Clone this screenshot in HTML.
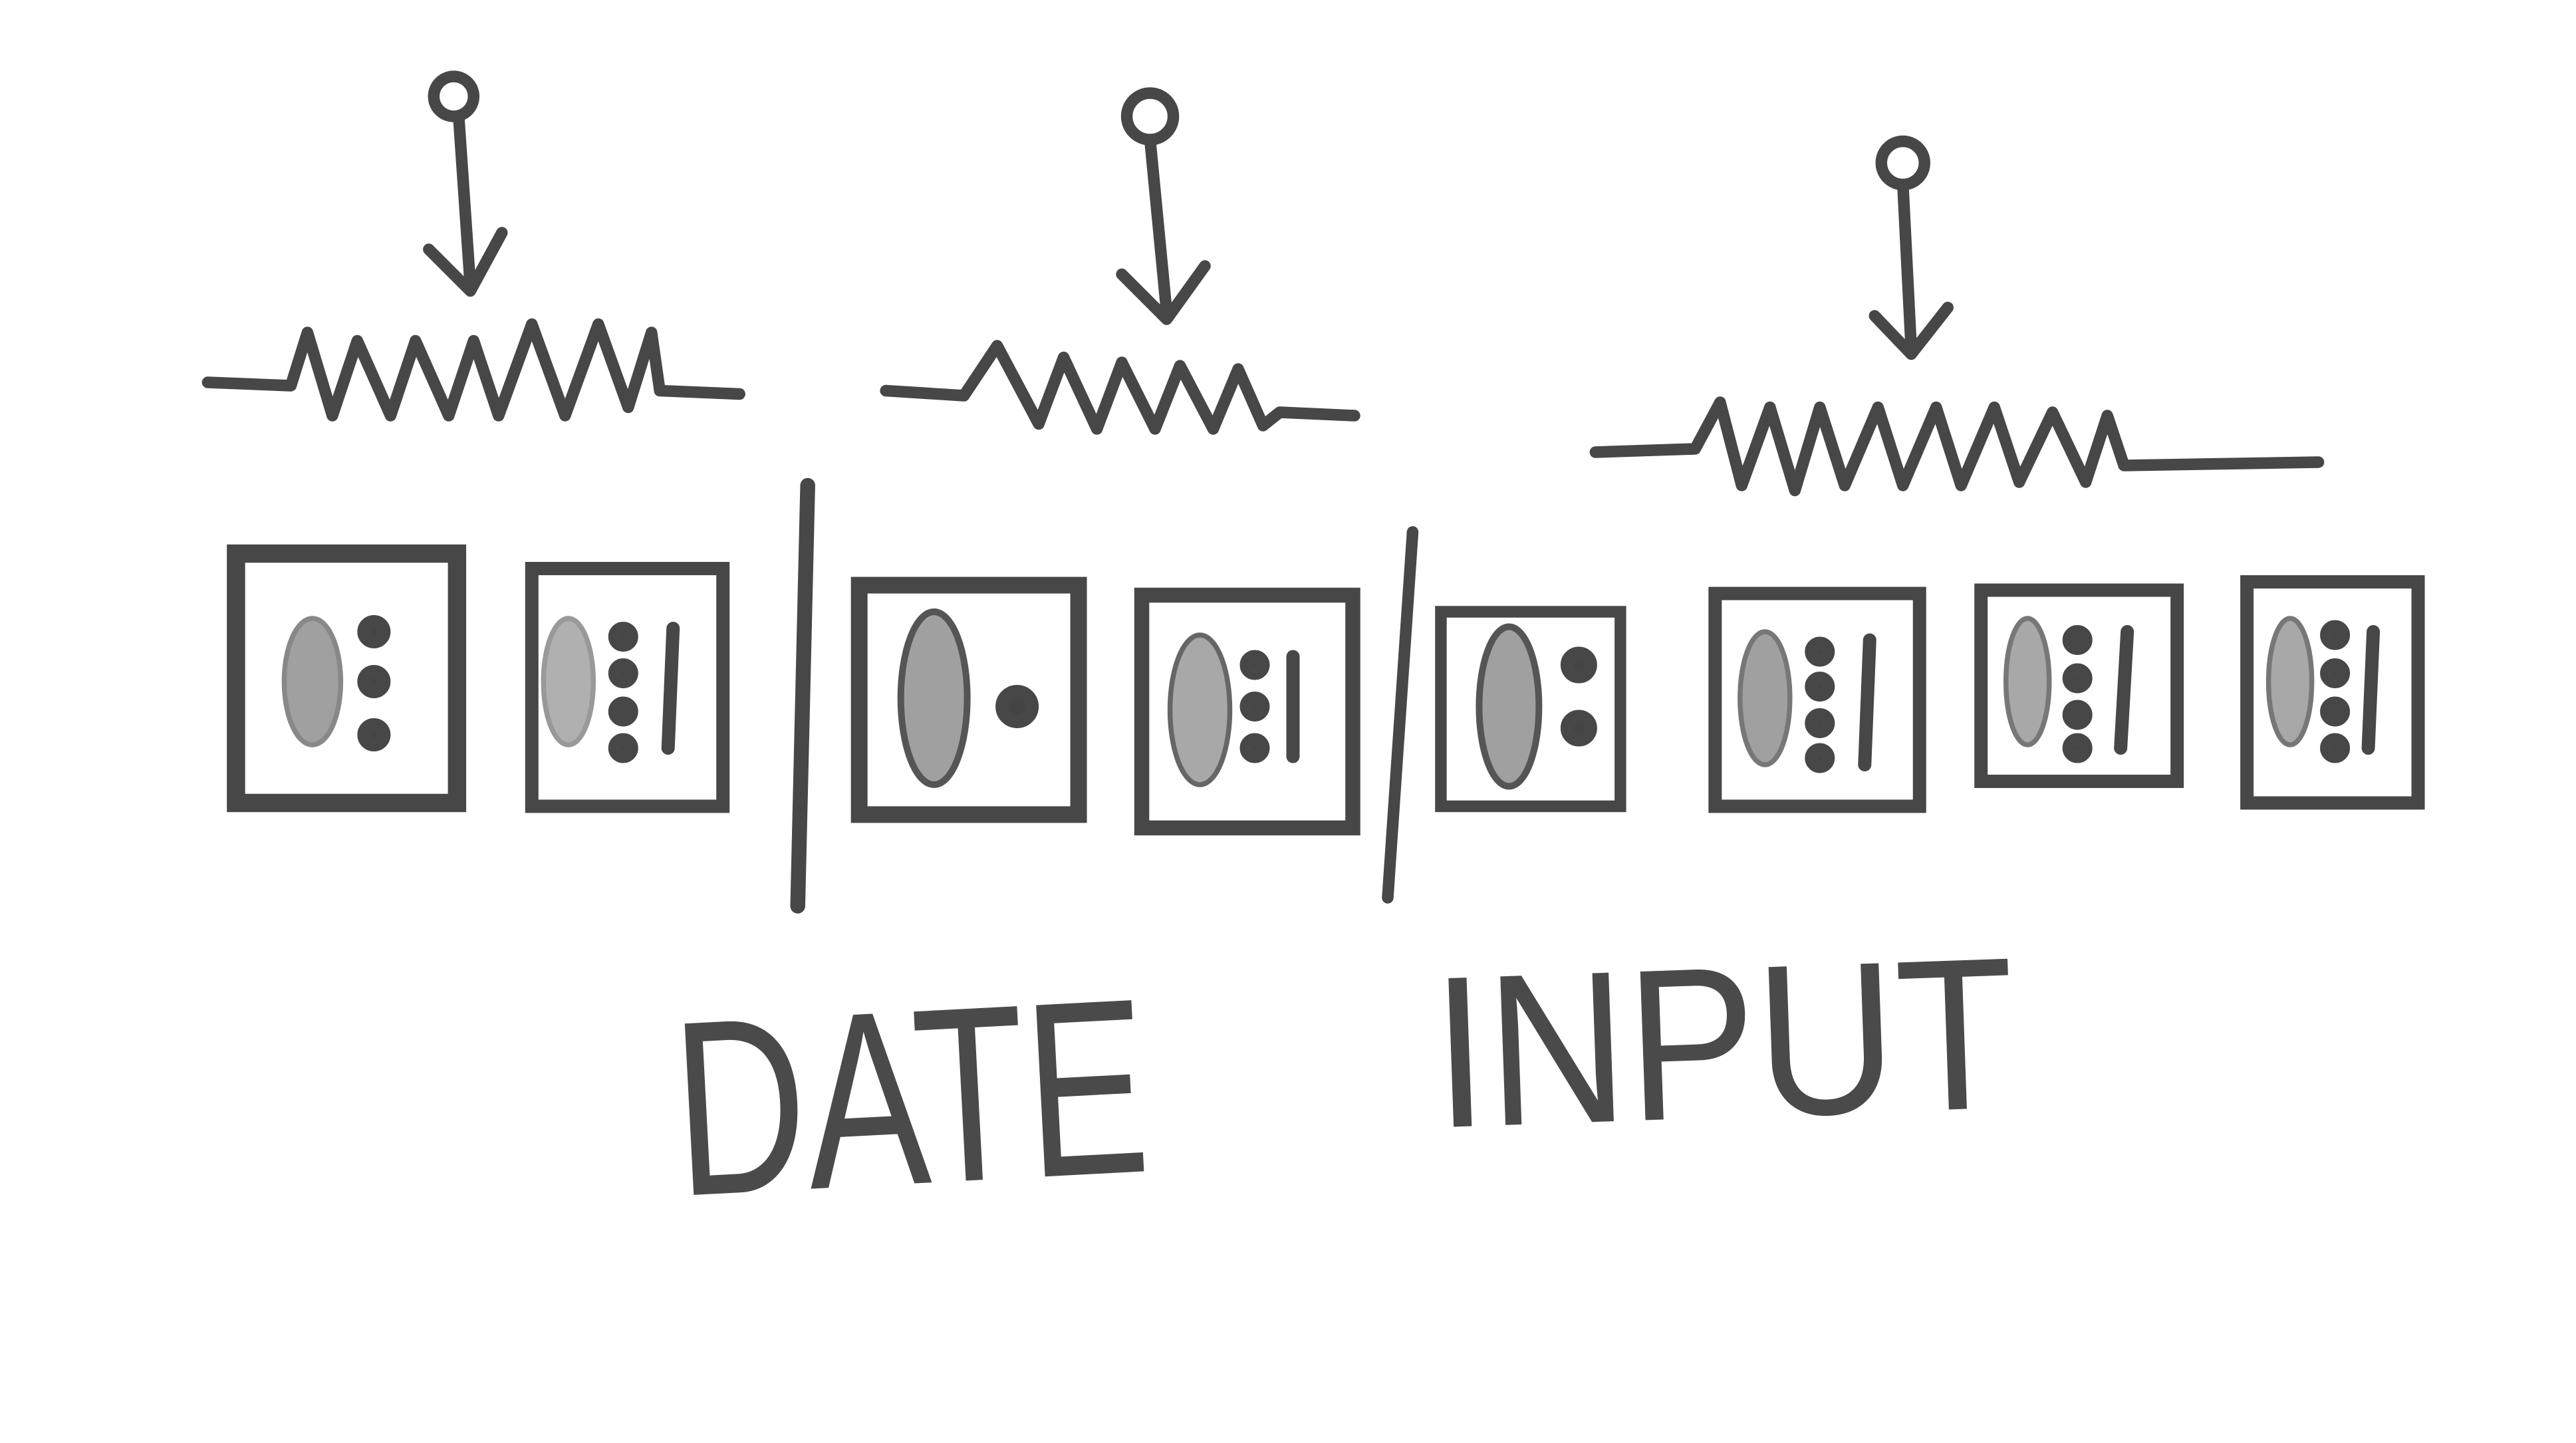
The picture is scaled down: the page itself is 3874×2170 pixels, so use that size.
<!DOCTYPE html>
<html><head><meta charset="utf-8"><style>
html,body{margin:0;padding:0;background:#fff;width:3874px;height:2170px;overflow:hidden}
svg{display:block}
</style></head><body>
<svg width="3874" height="2170" viewBox="0 0 1550 868" preserveAspectRatio="none" xmlns="http://www.w3.org/2000/svg">
<rect width="1550" height="868" fill="#fff"/>
<g fill="none" stroke="#474747" stroke-width="7" stroke-linecap="round" stroke-linejoin="round">
 <g>
  <circle cx="273" cy="58" r="12"/>
  <path d="M276 70 L283 172 M258 150 L283 175 L302 140"/>
  <polyline points="125,230 175,232 185,200 200,250 215,205 235,250 250,205 270,250 285,205 300,250 320,195 340,250 360,195 378,245 392,200 397,235 445,237"/>
 </g>
 <g>
  <circle cx="692" cy="70" r="14"/>
  <path d="M692 84 L702 188 M675 165 L702 192 L725 160"/>
  <polyline points="533,235 580,238 600,208 625,255 640,215 660,258 675,218 695,258 710,220 730,258 745,222 760,256 770,248 815,250"/>
 </g>
 <g>
  <circle cx="1145" cy="98" r="13"/>
  <path d="M1145 111 L1150 210 M1128 190 L1150 213 L1172 185"/>
  <polyline points="960,272 1020,270 1035,242 1048,292 1065,245 1080,295 1095,245 1110,292 1130,245 1145,292 1165,245 1180,292 1200,245 1215,290 1235,248 1255,290 1268,250 1278,280 1395,278"/>
 </g>
 <line x1="486" y1="292" x2="480" y2="545" stroke-width="9"/>
 <line x1="850" y1="320" x2="835" y2="540" stroke-width="7"/>
</g>
<g stroke="#474747" stroke-width="8" stroke-linecap="round">
 <g>
  <rect x="142" y="333" width="133" height="150" fill="#fff" stroke-width="11"/>
  <ellipse cx="188" cy="410" rx="17" ry="38" fill="#a0a0a0" stroke="#888" stroke-width="3"/>
  <circle cx="225" cy="380" r="6" fill="#444"/><circle cx="225" cy="410" r="6" fill="#444"/><circle cx="225" cy="442" r="6" fill="#444"/>
 </g>
 <g>
  <rect x="320" y="342" width="115" height="143" fill="#fff"/>
  <ellipse cx="342" cy="410" rx="15" ry="38" fill="#b0b0b0" stroke="#999" stroke-width="3"/>
  <circle cx="375" cy="383" r="5" fill="#444"/><circle cx="375" cy="405" r="5" fill="#444"/><circle cx="375" cy="428" r="5" fill="#444"/><circle cx="375" cy="450" r="5" fill="#444"/>
  <line x1="405" y1="378" x2="402" y2="450"/>
 </g>
 <g>
  <rect x="517" y="352" width="132" height="138" fill="#fff" stroke-width="10"/>
  <ellipse cx="562" cy="420" rx="20" ry="52" fill="#a0a0a0" stroke="#555" stroke-width="4"/>
  <circle cx="612" cy="425" r="9" fill="#444"/>
 </g>
 <g>
  <rect x="687" y="358" width="127" height="140" fill="#fff" stroke-width="9"/>
  <ellipse cx="722" cy="427" rx="18" ry="45" fill="#a8a8a8" stroke="#666" stroke-width="3"/>
  <circle cx="755" cy="400" r="5" fill="#444"/><circle cx="755" cy="425" r="5" fill="#444"/><circle cx="755" cy="450" r="5" fill="#444"/>
  <line x1="778" y1="395" x2="778" y2="455"/>
 </g>
 <g>
  <rect x="867" y="368" width="108" height="117" fill="#fff" stroke-width="7"/>
  <ellipse cx="908" cy="425" rx="18" ry="48" fill="#a0a0a0" stroke="#555" stroke-width="4"/>
  <circle cx="950" cy="400" r="7" fill="#444"/><circle cx="950" cy="438" r="7" fill="#444"/>
 </g>
 <g>
  <rect x="1032" y="357" width="123" height="128" fill="#fff"/>
  <ellipse cx="1062" cy="420" rx="15" ry="40" fill="#a0a0a0" stroke="#777" stroke-width="3"/>
  <circle cx="1095" cy="392" r="5" fill="#444"/><circle cx="1095" cy="413" r="5" fill="#444"/><circle cx="1095" cy="435" r="5" fill="#444"/><circle cx="1095" cy="456" r="5" fill="#444"/>
  <line x1="1125" y1="385" x2="1122" y2="460"/>
 </g>
 <g>
  <rect x="1192" y="355" width="118" height="115" fill="#fff"/>
  <ellipse cx="1220" cy="410" rx="13" ry="38" fill="#a8a8a8" stroke="#777" stroke-width="3"/>
  <circle cx="1250" cy="385" r="5" fill="#444"/><circle cx="1250" cy="408" r="5" fill="#444"/><circle cx="1250" cy="430" r="5" fill="#444"/><circle cx="1250" cy="450" r="5" fill="#444"/>
  <line x1="1280" y1="380" x2="1276" y2="450"/>
 </g>
 <g>
  <rect x="1352" y="350" width="103" height="133" fill="#fff"/>
  <ellipse cx="1378" cy="410" rx="13" ry="38" fill="#a8a8a8" stroke="#777" stroke-width="3"/>
  <circle cx="1405" cy="382" r="5" fill="#444"/><circle cx="1405" cy="405" r="5" fill="#444"/><circle cx="1405" cy="428" r="5" fill="#444"/><circle cx="1405" cy="450" r="5" fill="#444"/>
  <line x1="1428" y1="380" x2="1425" y2="450"/>
 </g>
</g>
<text x="405" y="712" font-family="Liberation Sans, sans-serif" font-size="150" fill="#4a4a4a" textLength="285" lengthAdjust="spacingAndGlyphs" transform="rotate(-3 545 650)">DATE</text>
<text x="862" y="672" font-family="Liberation Sans, sans-serif" font-size="130" fill="#4a4a4a" textLength="350" lengthAdjust="spacingAndGlyphs" transform="rotate(-2 1040 620)">INPUT</text>
</svg>
</body></html>
